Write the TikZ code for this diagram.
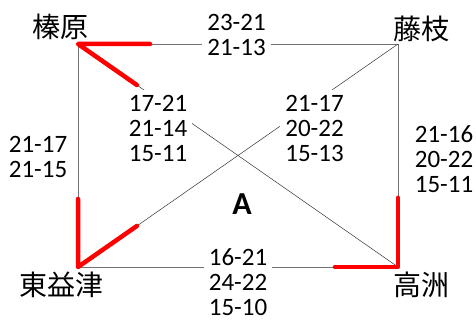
\documentclass[tikz,border=0pt]{standalone}
\usepackage{fontspec}
\setmainfont{Carlito}
\newfontfamily\jpfont{Noto Sans CJK JP}
\usetikzlibrary{positioning,calc}
\tikzstyle{city}=[inner sep=0pt,font=\jpfont\fontsize{28}{28}\selectfont]
\tikzstyle{score}=[fill=white,inner sep=5pt,align=center,font=\fontsize{25}{25}\selectfont]
\tikzstyle{side}=[draw=black!55,line width=0.8pt]
\tikzstyle{cross}=[draw=black!80,line width=0.5pt]
\tikzstyle{win}=[draw=red,line width=4.5pt,line cap=round,line join=round]

\begin{document}
\begin{tikzpicture}[x=1pt,y=1pt]
\useasboundingbox (0,0) rectangle (476,320);
% corners of the league table
\coordinate (hai) at (78,276);
\coordinate (fuj) at (398,276);
\coordinate (hig) at (78,53);
\coordinate (tak) at (398,53);
% matches
\draw [side] (hai) -- (fuj);
\draw [side] (hai) -- (hig);
\draw [side] (fuj) -- (tak);
\draw [side] (hig) -- (tak);
\draw [cross] (hai) -- (tak);
\draw [cross] (hig) -- (fuj);
% set scores
\node (sTop) [score] at (236.5,285.5) {23-21\\21-13};
\node (sBot) [score, inner ysep=1pt] at (238,37.5) {16-21\\24-22\\15-10};
\node (sLft) [score] at (38,163.5) {21-17\\21-15};
\node (sRgt) [score] at (444,160.5) {21-16\\20-22\\15-11};
\node (sHT) [score] at (158,191.5) {17-21\\21-14\\15-11};
\node (sHF) [score] at (314.5,192) {21-17\\20-22\\15-13};
% winners
\draw [win] ($(hai)!0.225!(fuj)$) -- (hai) -- ($(hai)!0.184!(tak)$);
\draw [win] ($(hig)!0.305!(hai)$) -- (hig) -- ($(hig)!0.184!(fuj)$);
\draw [win] ($(tak)!0.31!(fuj)$) -- (tak) -- ($(tak)!0.197!(hig)$);
% teams
\node (nHai) [city, above=4pt of hai, xshift=-18pt] {榛原};
\node (nFuj) [city, above=2pt of fuj, xshift=23.5pt] {藤枝};
\node (nHig) [city, below=5pt of hig, xshift=-16.5pt] {東益津};
\node (nTak) [city, below=5pt of tak, xshift=23.5pt] {高洲};
\node (grp) [font=\bfseries\fontsize{32}{32}\selectfont] at (242,116) {A};
\end{tikzpicture}
\end{document}
